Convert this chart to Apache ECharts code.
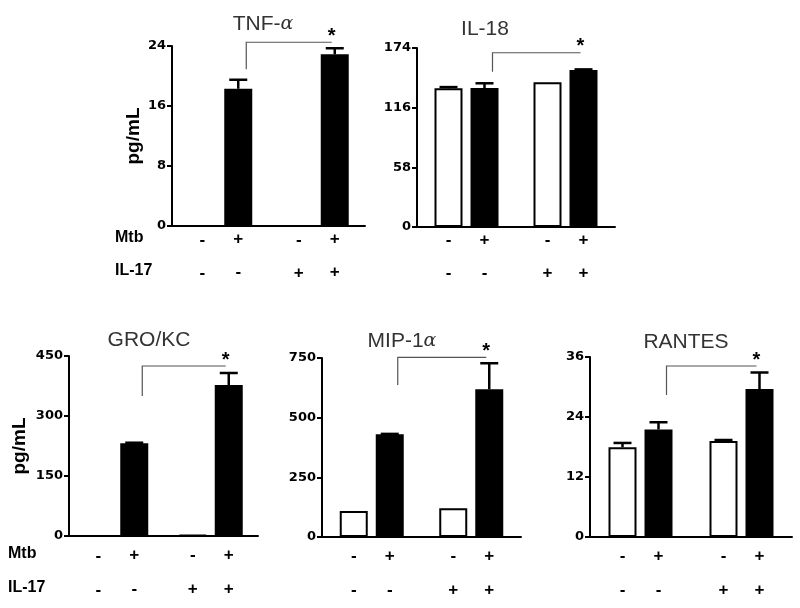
<!DOCTYPE html>
<html>
<head>
<meta charset="utf-8">
<script src="https://cdn.jsdelivr.net/npm/echarts@6/dist/echarts.min.js"></script>
<style>
html,body{margin:0;padding:0;background:#fff;}
#chart{width:800px;height:608px;}
</style>
</head>
<body>
<div id="chart"></div>
<script>
// ---------- data ----------
var groups = ['IL-17 -', 'IL-17 +'];          // bar groups on each x axis
var mtbSigns = ['-', '+'];                     // white bar = Mtb -, black bar = Mtb +
var il17Signs = ['-', '+'];                    // per group
var rowLabels = ['Mtb', 'IL-17'];
var unitLabel = 'pg/mL';

var titles = ['TNF-α', 'IL-18', 'GRO/KC', 'MIP-1α', 'RANTES'];

var tnfMtbNeg = [0, 0];
var tnfMtbPos = [18.3, 22.9];
var tnfErrNeg = [0, 0];
var tnfErrPos = [1.2, 0.8];
var tnfTicks = [0, 8, 16, 24];
var tnfSig = [20.9, 24.5];

var il18MtbNeg = [134.8, 140.6];
var il18MtbPos = [135, 152.6];
var il18ErrNeg = [1.2, 0];
var il18ErrPos = [4.7, 0.6];
var il18Ticks = [0, 58, 116, 174];
var il18Sig = [151, 169.4];

var groMtbNeg = [0, 3];
var groMtbPos = [231.7, 377.5];
var groErrNeg = [0, 0];
var groErrPos = [1.5, 30];
var groTicks = [0, 150, 300, 450];
var groSig = [350, 425];

var mipMtbNeg = [109, 120];
var mipMtbPos = [430, 619];
var mipErrNeg = [0, 0];
var mipErrPos = [2, 109];
var mipTicks = [0, 250, 500, 750];
var mipSig = [637, 753];

var rantesMtbNeg = [17.96, 19.2];
var rantesMtbPos = [21.5, 29.6];
var rantesErrNeg = [0.85, 0.2];
var rantesErrPos = [1.45, 3.3];
var rantesTicks = [0, 12, 24, 36];
var rantesSig = [28.4, 34.2];

// ---------- layout / style ----------
var BAR_W = 28, BAR_GAP = 8;
var FONT = 'Liberation Sans, Arial, Helvetica, sans-serif';
var TICK_FONT = 'DejaVu Sans, Liberation Sans, sans-serif';
var panels = [
  {neg: tnfMtbNeg, pos: tnfMtbPos, eN: tnfErrNeg, eP: tnfErrPos, ticks: tnfTicks, sig: tnfSig,
   grid: {left: 172, top: 46, width: 193, height: 180}, row: 0, name: true, nameGap: 29,
   title: [263, 24]},
  {neg: il18MtbNeg, pos: il18MtbPos, eN: il18ErrNeg, eP: il18ErrPos, ticks: il18Ticks, sig: il18Sig,
   grid: {left: 417, top: 48, width: 198, height: 179}, row: 0, name: false,
   title: [485, 29]},
  {neg: groMtbNeg, pos: groMtbPos, eN: groErrNeg, eP: groErrPos, ticks: groTicks, sig: groSig,
   grid: {left: 69, top: 356, width: 189, height: 180}, row: 1, name: true, nameGap: 40,
   title: [149, 340]},
  {neg: mipMtbNeg, pos: mipMtbPos, eN: mipErrNeg, eP: mipErrPos, ticks: mipTicks, sig: mipSig,
   grid: {left: 322, top: 358, width: 199, height: 179}, row: 1, name: false,
   title: [402, 341]},
  {neg: rantesMtbNeg, pos: rantesMtbPos, eN: rantesErrNeg, eP: rantesErrPos, ticks: rantesTicks, sig: rantesSig,
   grid: {left: 590, top: 357, width: 202, height: 180}, row: 1, name: false,
   title: [686, 342]}
];
var rowStyle = [
  {lineHeight: 33, offset: -3.5, labelY: [238, 271], labelX: 115},
  {lineHeight: 34, offset: 2, labelY: [554, 588], labelX: 8}
];

var grids = [], xAxes = [], yAxes = [], series = [], graphics = [];

panels.forEach(function (p, i) {
  grids.push(p.grid);
  xAxes.push({
    type: 'category', gridIndex: i, data: groups,
    axisLine: {lineStyle: {color: '#000', width: 2}},
    axisTick: {show: false}, axisLabel: {show: false}
  });
  var step = p.ticks[1] - p.ticks[0];
  yAxes.push({
    type: 'value', gridIndex: i, min: p.ticks[0], max: p.ticks[p.ticks.length - 1], interval: step,
    name: p.name ? unitLabel : '', nameLocation: 'middle', nameGap: p.nameGap || 0, nameRotate: 90,
    nameTextStyle: {fontFamily: FONT, fontWeight: 'bold', fontSize: 19, color: '#000'},
    axisLine: {show: true, lineStyle: {color: '#000', width: 2}},
    axisTick: {show: true, length: 5, lineStyle: {color: '#000', width: 2}},
    axisLabel: {fontFamily: TICK_FONT, fontWeight: 'bold', fontSize: 13, color: '#000', margin: 6},
    splitLine: {show: false}
  });
  var rs = rowStyle[p.row];
  function lbl(sideIdx) {
    return {
      show: true, position: 'bottom', distance: 0, offset: [0, rs.offset],
      fontFamily: FONT, fontWeight: 'bold', fontSize: 17, color: '#000', lineHeight: rs.lineHeight,
      formatter: function (d) { return mtbSigns[sideIdx] + '\n' + il17Signs[d.dataIndex]; }
    };
  }
  series.push({
    type: 'bar', xAxisIndex: i, yAxisIndex: i, data: p.neg, barWidth: BAR_W,
    barGap: (BAR_GAP / BAR_W * 100) + '%',
    itemStyle: {color: '#fff', borderColor: '#000', borderWidth: 2},
    label: lbl(0), silent: true
  });
  series.push({
    type: 'bar', xAxisIndex: i, yAxisIndex: i, data: p.pos, barWidth: BAR_W,
    barGap: (BAR_GAP / BAR_W * 100) + '%',
    itemStyle: {color: '#000'},
    label: lbl(1), silent: true
  });
  // error bars
  var errData = [];
  for (var g = 0; g < groups.length; g++) {
    errData.push([g, p.neg[g], p.neg[g] + p.eN[g], -1]);
    errData.push([g, p.pos[g], p.pos[g] + p.eP[g], 1]);
  }
  series.push({
    type: 'custom', xAxisIndex: i, yAxisIndex: i, data: errData, silent: true, z: 5,
    encode: {x: 0, y: [1, 2]},
    renderItem: function (params, api) {
      var mean = api.value(1), top = api.value(2), side = api.value(3);
      if (top - mean <= 0) return;
      var off = side * (BAR_W + BAR_GAP) / 2;
      var a = api.coord([api.value(0), mean]);
      var b = api.coord([api.value(0), top]);
      var x = a[0] + off;
      return {type: 'group', children: [
        {type: 'line', shape: {x1: x, y1: a[1], x2: x, y2: b[1]}, style: {stroke: '#000', lineWidth: 2.5}},
        {type: 'line', shape: {x1: x - 9, y1: b[1], x2: x + 9, y2: b[1]}, style: {stroke: '#000', lineWidth: 2.5}}
      ]};
    }
  });
  // significance bracket
  series.push({
    type: 'custom', xAxisIndex: i, yAxisIndex: i, data: [[0, p.sig[0], p.sig[1]]], silent: true, z: 6,
    clip: false, encode: {x: 0, y: [1, 2]},
    renderItem: function (params, api) {
      var off = (BAR_W + BAR_GAP) / 2;
      var lo = api.coord([0, api.value(1)]);
      var hi = api.coord([1, api.value(2)]);
      var xl = lo[0] + off + 8, xr = hi[0] + off - 3;
      return {type: 'group', children: [
        {type: 'polyline', shape: {points: [[xl, lo[1]], [xl, hi[1]], [xr, hi[1]]]},
         style: {stroke: '#555', lineWidth: 1.2, fill: null}},
        {type: 'text', x: xr, y: hi[1] + 4, style: {text: '*', fontFamily: FONT, fontWeight: 'bold',
          fontSize: 20, fill: '#000', align: 'center', verticalAlign: 'bottom'}}
      ]};
    }
  });
  // title
  var t = titles[i];
  var hasAlpha = t.indexOf('α') >= 0;
  graphics.push({
    type: 'text', x: p.title[0], y: p.title[1], silent: true,
    style: {
      text: hasAlpha ? t.replace('α', '') + '{a|α}' : t,
      rich: {a: {fontStyle: 'italic', fontFamily: 'DejaVu Serif, serif', fontSize: 19, fill: '#333'}},
      fontFamily: FONT, fontSize: 21, fill: '#333', align: 'center', verticalAlign: 'middle'
    }
  });
});

rowStyle.forEach(function (rs) {
  rowLabels.forEach(function (txt, k) {
    graphics.push({
      type: 'text', x: rs.labelX, y: rs.labelY[k], silent: true,
      style: {text: txt, fontFamily: FONT, fontWeight: 'bold', fontSize: 16, fill: '#000',
        align: 'left', verticalAlign: 'middle'}
    });
  });
});

var chart = echarts.init(document.getElementById('chart'), null, {renderer: 'canvas'});
chart.setOption({
  animation: false,
  backgroundColor: '#fff',
  grid: grids, xAxis: xAxes, yAxis: yAxes, series: series, graphic: graphics
});
</script>
</body>
</html>
